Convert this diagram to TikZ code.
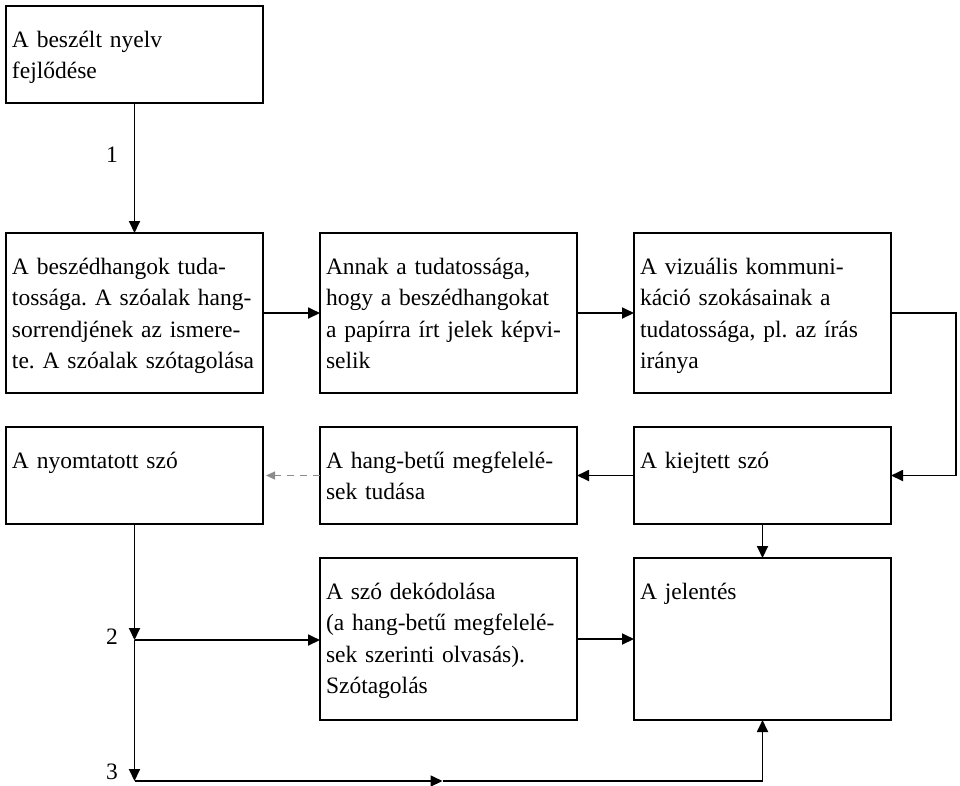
\documentclass[tikz,border=0pt]{standalone}
\usepackage{fontspec}
\setmainfont{Liberation Serif}
\usepackage{tikz}
\usetikzlibrary{arrows.meta, positioning, calc}
\tikzstyle{box} = [draw, rectangle, line width=1.9pt, outer sep=0pt, anchor=north west, text width=245pt, align=left, inner xsep=6pt, inner ysep=0pt, text height=41pt, font=\fontsize{23.5}{31.5}\selectfont\frenchspacing]
\tikzstyle{num} = [font=\fontsize{23.5}{31.5}\selectfont, inner sep=0pt]
\tikzstyle{arrow} = [draw, -{Triangle[length=12pt,width=11pt]}, line width=1.8pt]
\tikzstyle{faint} = [draw, -{Triangle[length=9pt,width=8pt]}, line width=1.2pt, black!45, dash pattern=on 7pt off 6pt, shorten >=3pt]

\begin{document}
\begin{tikzpicture}[x=1pt, y=-1pt]
    \useasboundingbox (0,0) rectangle (960,785);

    % Draw blocks
    \node (nyelv) [box, text depth=56pt] at (6,6) {A beszélt nyelv\\fejlődése};

    \node (hangok) [box, text depth=119pt, below=130pt of nyelv] {A beszédhangok tuda-\\tossága. A szóalak hang-\\sorrendjének az ismere-\\te. A szóalak szótagolása};
    \node (tudat) [box, text depth=119pt, right=57pt of hangok] {Annak a tudatossága,\\hogy a beszédhangokat\\a papírra írt jelek képvi-\\selik};
    \node (vizual) [box, text depth=119pt, right=57pt of tudat] {A vizuális kommuni-\\káció szokásainak a\\tudatossága, pl. az írás\\iránya};

    \node (nyomt) [box, text depth=56pt, below=34pt of hangok] {A nyomtatott szó};
    \node (megfel) [box, text depth=56pt, right=57pt of nyomt] {A hang-betű megfelelé-\\sek tudása};
    \node (kiejt) [box, text depth=56pt, right=57pt of megfel] {A kiejtett szó};

    \node (jelent) [box, text depth=121pt, below=34pt of kiejt] {A jelentés};
    \node (dekod) [box, text depth=121pt, left=57pt of jelent] {A szó dekódolása\\(a hang-betű megfelelé-\\sek szerinti olvasás).\\Szótagolás};

    % Numbers
    \node (lab1) [num] at (112,155) {1};
    \node (lab2) [num] at (112,637) {2};
    \node (lab3) [num] at (112,772) {3};

    % Split points
    \coordinate (split2) at ([yshift=-116pt]nyomt.south);
    \coordinate (split3) at ([yshift=-257pt]nyomt.south);
    \coordinate (half) at ([xshift=308pt]split3);

    % Links
    \draw [arrow] (nyelv) -- (hangok);
    \draw [arrow] (hangok) -- (tudat);
    \draw [arrow] (tudat) -- (vizual);
    \draw [arrow] (vizual.east) -- ++(65,0) |- (kiejt.east);
    \draw [arrow] (kiejt) -- (megfel);
    \draw [faint] (megfel) -- (nyomt);
    \draw [arrow] (kiejt) -- (jelent);

    \draw [arrow] (nyomt) -- (split2);
    \draw [arrow] (split2) -- (split3);
    \draw [arrow] (split2) -- (split2 -| dekod.west);
    \draw [arrow] (dekod) -- (jelent);
    \draw [arrow] (split3) -- (half);
    \draw [arrow] (half) -| (jelent.south);
\end{tikzpicture}
\end{document}
